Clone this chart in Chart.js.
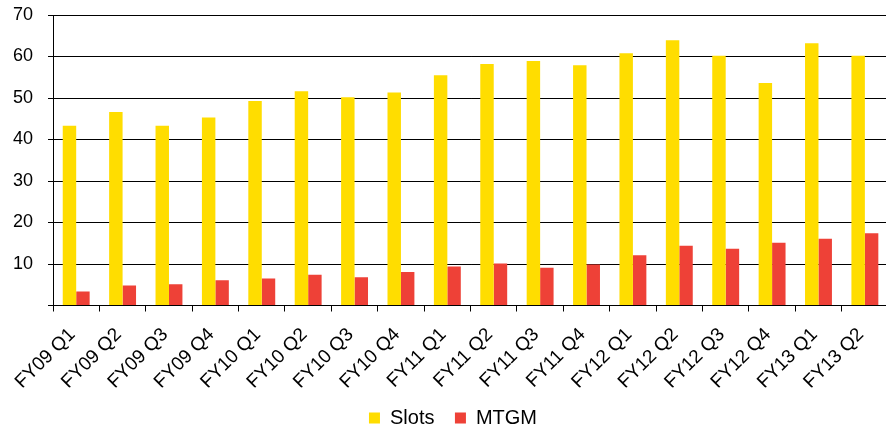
<!DOCTYPE html>
<html>
<head>
<meta charset="utf-8">
<script src="https://cdn.jsdelivr.net/npm/chart.js@4"></script>
<style>
  html, body { margin: 0; padding: 0; background: #fff; overflow: hidden; }
  canvas { display: block; }
</style>
</head>
<body>
<canvas id="chart" width="893" height="428"></canvas>
<script>
// Quarterly revenue by segment
const categories = [
  'FY09 Q1', 'FY09 Q2', 'FY09 Q3', 'FY09 Q4',
  'FY10 Q1', 'FY10 Q2', 'FY10 Q3', 'FY10 Q4',
  'FY11 Q1', 'FY11 Q2', 'FY11 Q3', 'FY11 Q4',
  'FY12 Q1', 'FY12 Q2', 'FY12 Q3', 'FY12 Q4',
  'FY13 Q1', 'FY13 Q2'
];
const slots = [43.3, 46.6, 43.3, 45.3, 49.3, 51.6, 50.2, 51.3, 55.5, 58.2, 58.9, 57.9, 60.8, 63.9, 60.2, 53.6, 63.2, 60.2];
const mtgm  = [3.4, 4.8, 5.1, 6.1, 6.5, 7.4, 6.8, 8.1, 9.4, 10.1, 9.1, 9.9, 12.1, 14.4, 13.7, 15.1, 16.1, 17.4];
const yTicks = [0, 10, 20, 30, 40, 50, 60, 70];

const FONT = '"Liberation Sans", Arial, Helvetica, sans-serif';

new Chart(document.getElementById('chart'), {
  type: 'bar',
  data: {
    labels: categories,
    datasets: [
      { label: 'Slots', data: slots, backgroundColor: '#FFDD00', categoryPercentage: 0.58, barPercentage: 1.0 },
      { label: 'MTGM',  data: mtgm,  backgroundColor: '#EE4137', categoryPercentage: 0.58, barPercentage: 1.0 }
    ]
  },
  options: {
    responsive: false,
    animation: false,
    layout: { padding: { left: 13, right: 0, top: 15, bottom: -10 } },
    plugins: {
      tooltip: { enabled: false },
      legend: {
        position: 'bottom',
        labels: {
          boxWidth: 11,
          boxHeight: 11,
          padding: 20.5,
          color: '#000',
          font: { family: FONT, size: 20 }
        }
      }
    },
    scales: {
      x: {
        offset: true,
        grid: { offset: true, drawOnChartArea: false, drawTicks: true, tickLength: 6, color: '#000', lineWidth: 1 },
        border: { color: '#000', width: 1 },
        ticks: {
          color: '#000',
          font: { family: FONT, size: 19 },
          minRotation: 45,
          maxRotation: 45,
          autoSkip: false,
          padding: 12,
          labelOffset: -4
        },
        afterFit: (s) => { s.height = 82; }
      },
      y: {
        min: yTicks[0],
        max: yTicks[yTicks.length - 1],
        afterBuildTicks: (s) => { s.ticks = yTicks.map(v => ({ value: v })); },
        grid: { color: '#000', lineWidth: 1, drawTicks: true, tickLength: 5 },
        border: { color: '#000', width: 1 },
        ticks: {
          color: '#000',
          font: { family: FONT, size: 18 },
          padding: 0,
          crossAlign: 'far',
          callback: (v) => (v === 0 ? '' : v)
        },
        afterFit: (s) => { s.width = 40; }
      }
    }
  }
});
</script>
</body>
</html>
